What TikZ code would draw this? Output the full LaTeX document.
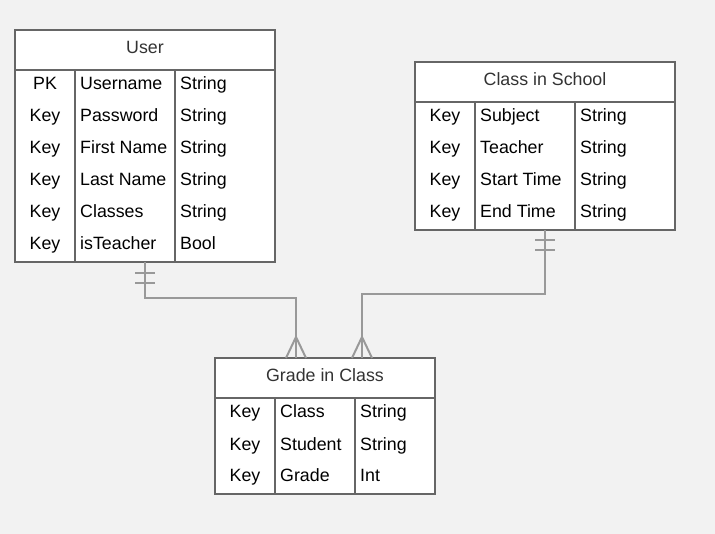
\documentclass[tikz,border=0pt]{standalone}
\usepackage{fontspec}
\setmainfont{Liberation Sans}
\definecolor{bgc}{HTML}{F2F2F2}
\definecolor{bordc}{HTML}{666666}
\definecolor{linkc}{HTML}{999999}
\definecolor{titc}{HTML}{333333}
\begin{document}
\begin{tikzpicture}[x=1pt,y=-1pt,
  tablebox/.style={draw=bordc,fill=white,line width=2pt,inner sep=0pt,outer sep=0pt,anchor=north west},
  grid/.style={draw=bordc,line width=2pt},
  link/.style={draw=linkc,line width=2pt},
  ttl/.style={anchor=base,text=titc,font=\fontsize{17.8}{20}\selectfont,inner sep=0pt},
  cellc/.style={anchor=base,font=\fontsize{17.8}{20}\selectfont,inner sep=0pt},
  celll/.style={anchor=base west,font=\fontsize{17.8}{20}\selectfont,inner sep=0pt}]
\fill[bgc] (0,0) rectangle (715,534);
\useasboundingbox (0,0) rectangle (715,534);

% ---------- User ----------
\node[tablebox,minimum width=260pt,minimum height=232pt] (user) at (15,30) {};
\draw[grid] (15,70) -- (275,70) (75,70) -- (75,262) (175,70) -- (175,262);
\node[ttl] (userT) at (145,53.5) {User};
\foreach \k/\n/\t [count=\i from 0] in {PK/Username/String,Key/Password/String,Key/First Name/String,Key/Last Name/String,Key/Classes/String,Key/isTeacher/Bool}{
  \node[cellc] (uk\i) at (45,90+32*\i) {\k};
  \node[celll] (un\i) at (80,90+32*\i) {\n};
  \node[celll] (ut\i) at (180,90+32*\i) {\t};
}

% ---------- Class in School ----------
\node[tablebox,minimum width=260pt,minimum height=168pt] (cls) at (415,62) {};
\draw[grid] (415,102) -- (675,102) (475,102) -- (475,230) (575,102) -- (575,230);
\node[ttl] (clsT) at (545,86) {Class in School};
\foreach \k/\n/\t [count=\i from 0] in {Key/Subject/String,Key/Teacher/String,Key/Start Time/String,Key/End Time/String}{
  \node[cellc] (ck\i) at (445,122+32*\i) {\k};
  \node[celll] (cn\i) at (480,122+32*\i) {\n};
  \node[celll] (ct\i) at (580,122+32*\i) {\t};
}

% ---------- Grade in Class ----------
\node[tablebox,minimum width=220pt,minimum height=136pt] (grd) at (215,358) {};
\draw[grid] (215,398) -- (435,398) (275,398) -- (275,494) (355,398) -- (355,494);
\node[ttl] (grdT) at (325,382) {Grade in Class};
\foreach \k/\n/\t [count=\i from 0] in {Key/Class/String,Key/Student/String,Key/Grade/Int}{
  \node[cellc] (gk\i) at (245,418+32*\i) {\k};
  \node[celll] (gn\i) at (280,418+32*\i) {\n};
  \node[celll] (gt\i) at (360,418+32*\i) {\t};
}

% ---------- connectors ----------
\coordinate (g1) at (296,358);
\coordinate (g2) at (362,358);
\draw[link] (user.south) |- (220,298) -| (g1);
\draw[link] (cls.south) |- (450,294) -| (g2);
% one marks
\draw[link] (135,273) -- (155,273) (135,283) -- (155,283);
\draw[link] (535,240) -- (555,240) (535,250) -- (555,250);
% crow's feet
\draw[link] (286,358) -- (296,337) -- (306,358);
\draw[link] (352,358) -- (362,337) -- (372,358);
\end{tikzpicture}
\end{document}
